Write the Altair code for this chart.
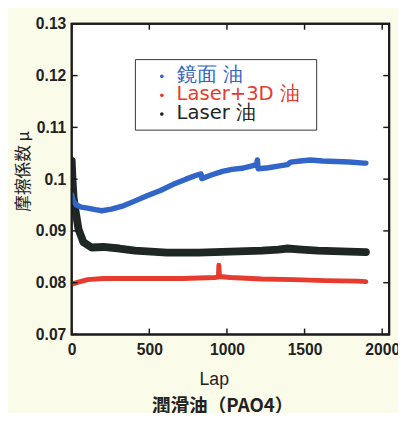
import altair as alt
import pandas as pd

series = ["鏡面 油", "Laser+3D 油", "Laser 油"]
colors = ["#3166c8", "#e63b2e", "#1e2724"]
widths = [5.5, 5, 8]

blue_lap = [0, 10, 31, 61, 102, 153, 194, 256, 337, 409, 485, 572, 654, 736, 807, 833, 838, 899,
            971, 1032, 1096, 1155, 1190, 1196, 1201, 1267, 1329, 1390, 1410, 1472, 1537, 1615,
            1705, 1789, 1884, 1895]
blue_mu = [0.0970, 0.0958, 0.0950, 0.0946, 0.0944, 0.0941, 0.0939, 0.0942, 0.0949, 0.0958, 0.0968,
           0.0978, 0.0990, 0.1000, 0.1008, 0.1010, 0.1001, 0.1008, 0.1015, 0.1019, 0.1021, 0.1025,
           0.1028, 0.1037, 0.1020, 0.1022, 0.1025, 0.1028, 0.1033, 0.1035, 0.1037, 0.1035, 0.1034,
           0.1033, 0.1031, 0.1031]

red_lap = [0, 31, 102, 204, 307, 511, 715, 920, 945, 948, 952, 1022, 1226, 1431, 1635, 1840, 1895]
red_mu = [0.0797, 0.0800, 0.0806, 0.0808, 0.0808, 0.0808, 0.0808, 0.0810, 0.0811, 0.0834, 0.0812,
          0.0810, 0.0807, 0.0806, 0.0804, 0.0803, 0.0802]

black_lap = [0, 5, 12, 24, 44, 76, 128, 204, 307, 409, 511, 613, 715, 818, 920, 1022, 1124, 1226,
             1329, 1390, 1482, 1584, 1686, 1789, 1895]
black_mu = [0.1035, 0.1000, 0.0965, 0.0940, 0.0903, 0.0878, 0.0868, 0.0869, 0.0866, 0.0862, 0.0860,
            0.0858, 0.0858, 0.0858, 0.0859, 0.0860, 0.0861, 0.0862, 0.0864, 0.0866, 0.0864, 0.0862,
            0.0861, 0.0860, 0.0859]

yticks = [0.07, 0.08, 0.09, 0.10, 0.11, 0.12, 0.13]
xticks = [0, 500, 1000, 1500, 2000]

data = {series[0]: (blue_lap, blue_mu), series[1]: (red_lap, red_mu), series[2]: (black_lap, black_mu)}

W, H = 324, 317
TK = 6
xscale = alt.Scale(domain=[0, 2045], nice=False, zero=False)
yscale = alt.Scale(domain=[0.07, 0.13], nice=False, zero=False)
cscale = alt.Scale(domain=series, range=colors)

xaxis = alt.Axis(values=xticks, format="d", title="Lap", ticks=False, domain=False, grid=False,
                 labelFont="Liberation Sans", labelFontSize=16, labelFontWeight="bold",
                 labelColor="#222", labelPadding=7, labelFlush=False,
                 titleFont="Liberation Sans", titleFontSize=18, titleFontWeight="normal",
                 titleColor="#222", titleX=145, titleY=46, titleBaseline="middle")
yaxis = alt.Axis(values=yticks, format="~g", title="摩擦係数 μ", ticks=False, domain=False,
                 grid=False, labelFont="Liberation Sans", labelFontSize=16,
                 labelFontWeight="bold", labelColor="#222", labelPadding=6,
                 titleFont="Noto Sans CJK JP", titleFontSize=17, titleFontWeight="normal",
                 titleColor="#222", titleAngle=270, titleX=-49, titleY=150,
                 titleAlign="center", titleBaseline="middle")

layers = []
for name in [series[2], series[0], series[1]]:
    laps, mus = data[name]
    d = pd.DataFrame({"name": name, "lap": laps, "mu": mus})
    layers.append(alt.Chart(d).mark_line(strokeJoin="round", strokeCap="round", clip=True,
                                         strokeWidth=widths[series.index(name)]).encode(
        x=alt.X("lap:Q", scale=xscale, axis=xaxis),
        y=alt.Y("mu:Q", scale=yscale, axis=yaxis),
        color=alt.Color("name:N", scale=cscale, legend=None),
    ))

ydf = pd.DataFrame({"t": yticks})
xdf = pd.DataFrame({"t": xticks})
rule_style = dict(color="#1a1a1a", strokeWidth=1.5)
layers += [
    alt.Chart(ydf).mark_rule(**rule_style).encode(
        y=alt.Y("t:Q", scale=yscale, axis=yaxis), x=alt.value(0), x2=alt.value(TK)),
    alt.Chart(ydf).mark_rule(**rule_style).encode(
        y=alt.Y("t:Q", scale=yscale, axis=yaxis), x=alt.value(W - TK), x2=alt.value(W)),
    alt.Chart(xdf).mark_rule(**rule_style).encode(
        x=alt.X("t:Q", scale=xscale, axis=xaxis), y=alt.value(H), y2=alt.value(H - TK)),
    alt.Chart(xdf).mark_rule(**rule_style).encode(
        x=alt.X("t:Q", scale=xscale, axis=xaxis), y=alt.value(0), y2=alt.value(TK)),
]

# plot frame
layers.append(alt.Chart(pd.DataFrame({"a": [0]})).mark_rect(
    fillOpacity=0, stroke="#1a1a1a", strokeWidth=2).encode(
    x=alt.value(0), x2=alt.value(W), y=alt.value(0), y2=alt.value(H)))

# legend
layers.append(alt.Chart(pd.DataFrame({"a": [0]})).mark_rect(
    fill="white", stroke="#333", strokeWidth=1).encode(
    x=alt.value(65), x2=alt.value(250), y=alt.value(36.5), y2=alt.value(108.5)))
leg_rows = [53.5, 73, 92]
for i, name in enumerate(series):
    ld = pd.DataFrame({"name": [name]})
    layers.append(alt.Chart(ld).mark_circle(size=14, opacity=1).encode(
        x=alt.value(92), y=alt.value(leg_rows[i]),
        color=alt.Color("name:N", scale=cscale, legend=None)))
    layers.append(alt.Chart(ld).mark_text(align="left", baseline="middle", font="DejaVu Sans",
                                          fontSize=20, dy=-1).encode(
        x=alt.value(107), y=alt.value(leg_rows[i]), text="name:N",
        color=alt.Color("name:N", scale=cscale, legend=None)))

chart = alt.layer(*layers).properties(
    width=W, height=H,
    padding={"left": 65, "top": 12, "right": 9, "bottom": 76},
    autosize=alt.AutoSizeParams(type="none"),
    background="#fbfbea",
    title=alt.TitleParams(text="潤滑油（PAO4）", orient="bottom", anchor="middle",
                          font="Noto Sans CJK JP", fontSize=19, fontWeight="bold", color="#222",
                          offset=9, dx=-8),
).configure_view(fill="white", stroke="#1a1a1a", strokeWidth=2)

chart.save("out.html", embed_options={"renderer": "svg", "actions": False})
